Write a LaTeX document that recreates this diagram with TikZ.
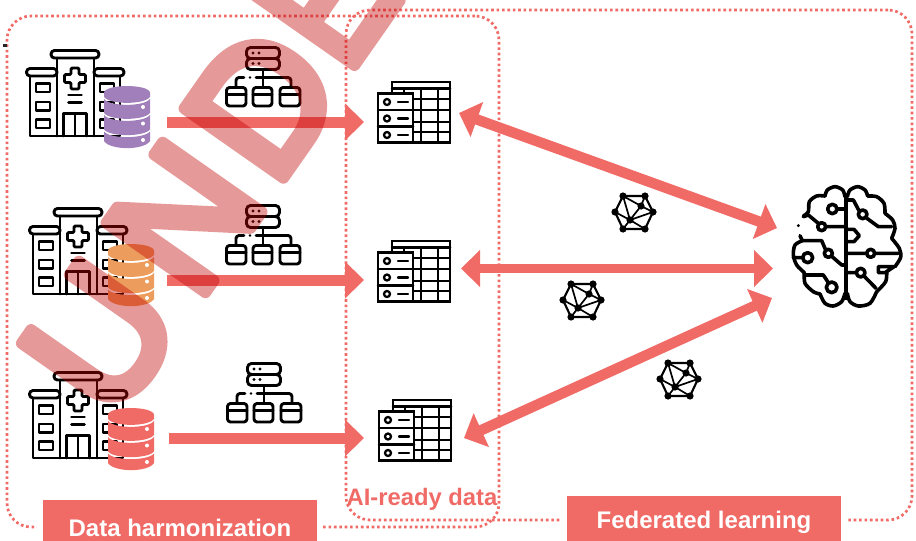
\documentclass[tikz,border=0pt]{standalone}
\usepackage{fontspec}
\setmainfont{Liberation Sans}
\newfontfamily\wmfont[FakeBold=6.5]{Liberation Sans}
\usetikzlibrary{arrows.meta,calc}
\definecolor{coral}{HTML}{F06A66}
\definecolor{wmred}{HTML}{C00000}
\definecolor{dbpurple}{HTML}{A17FBA}
\definecolor{dborange}{HTML}{EC9C5C}
\newcommand{\wmglyph}[1]{\special{pdf:code 1 j}#1}
\tikzset{
  iconbox/.style={inner sep=0,outer sep=0,draw=none,fill=none},
  icon/.style={draw=black,line width=2.9pt,line cap=round,line join=round},
  frame/.style={draw=coral,line width=2.7pt,dash pattern=on 2.6pt off 2.8pt,rounded corners=24pt,inner sep=0,outer sep=0},
  labelbox/.style={fill=coral,draw=white,line width=6pt,text=white,font=\fontsize{24}{26}\selectfont\bfseries,inner sep=0,outer sep=0},
  onearrow/.style={draw=coral,line width=11pt,-{Triangle[length=19pt,width=36pt,fill=coral]}},
  twoarrow/.style={draw=coral,line width=10.5pt,{Triangle[length=19pt,width=36pt,fill=coral]}-{Triangle[length=19pt,width=36pt,fill=coral]}},
  wmletter/.style={text=wmred,inner sep=0,outer sep=0,font=\wmfont\fontsize{176}{176}\selectfont,rotate=55},
  pics/hospital/.style={code={
    \draw[icon,rounded corners=3.5pt] (51,50.5) rectangle (99,58);
    \draw[icon,rounded corners=3.5pt] (26.5,68.5) rectangle (57,76);
    \draw[icon,rounded corners=3.5pt] (94,68.5) rectangle (124,76);
    \draw[icon] (57,58) -- (57,136) (94,58) -- (94,136);
    \draw[icon] (30,76) -- (30,136) -- (120,136) -- (120,76);
    \draw[icon,rounded corners=1.2pt] (71,68) -- (79,68) -- (79,74.5) -- (85.5,74.5) -- (85.5,82.5) -- (79,82.5) -- (79,89) -- (71,89) -- (71,82.5) -- (64.5,82.5) -- (64.5,74.5) -- (71,74.5) -- cycle;
    \draw[icon] (68.5,95) -- (81.5,95) (68.5,102.5) -- (81.5,102.5);
    \draw[icon] (63.5,136) -- (63.5,113.5) -- (86.5,113.5) -- (86.5,136) (75,113.5) -- (75,136);
    \foreach \wy in {83.5,102,119.5}{
      \draw[icon] (36,\wy) rectangle (50,\wy+8.5);
      \draw[icon] (100,\wy) rectangle (114,\wy+8.5);
    }
  }},
  pics/dbstack/.style={code={
    \fill[#1] (104,93) .. controls (104,83.7) and (150,83.7) .. (150,93) -- (150,97) .. controls (144,104.8) and (110,104.8) .. (104,97) -- cycle;
    \fill[#1] (104,99) .. controls (110,106.8) and (144,106.8) .. (150,99) -- (150,113) .. controls (144,120.8) and (110,120.8) .. (104,113) -- cycle;
    \fill[#1] (104,115) .. controls (110,122.8) and (144,122.8) .. (150,115) -- (150,129.5) .. controls (144,137) and (110,137) .. (104,129.5) -- cycle;
    \fill[#1] (104,131.5) .. controls (110,139) and (144,139) .. (150,131.5) -- (150,141) .. controls (144,150.5) and (110,150.5) .. (104,141) -- cycle;
    \fill[white] (143,107) circle[radius=2pt] (143,123.5) circle[radius=2pt] (143,140) circle[radius=2pt];
  }},
  pics/hierarchy/.style={code={
    \draw[icon,rounded corners=4pt] (246.5,47.5) rectangle (279.5,58.5);
    \draw[icon,rounded corners=4pt] (246.5,58.5) rectangle (279.5,69.5);
    \fill (253,53) circle[radius=1.6pt] (259,53) circle[radius=1.6pt] (253,63.5) circle[radius=1.6pt] (259,63.5) circle[radius=1.6pt] (250,77.5) circle[radius=1.3pt];
    \draw[icon] (263,69.5) -- (263,87);
    \draw[icon,rounded corners=3pt] (236,87) -- (236,77.5) -- (244,77.5);
    \draw[icon,rounded corners=3pt] (256,77.5) -- (291,77.5) -- (291,87);
    \foreach \bxa/\bxb in {226.5/246,253/272,280/300}{
      \draw[icon,rounded corners=3pt] (\bxa,87.5) rectangle (\bxb,106);
      \draw[icon] (\bxa,94.5) -- (\bxb,94.5);
    }
  }},
  pics/datatable/.style={code={
    \draw[icon,line width=2.5pt,line join=miter] (392,93) -- (392,82) -- (450,82) -- (450,142.5) -- (413,142.5);
    \draw[icon,line width=2.5pt] (392,88.5) -- (450,88.5);
    \draw[icon,line width=2.5pt] (413,99) -- (450,99) (413,110) -- (450,110) (413,122) -- (450,122) (413,132) -- (450,132);
    \draw[icon,line width=2.5pt] (421,88.5) -- (421,142.5) (438,88.5) -- (438,142.5) (404,88.5) -- (404,93);
    \draw[icon,line width=2.5pt,line join=miter] (378,93.5) rectangle (413,142.5);
    \draw[icon,line width=2.5pt] (378,110) -- (413,110) (378,126.5) -- (413,126.5);
    \draw[icon,line width=2.3pt] (387,102) circle[radius=3pt] (387,118.5) circle[radius=3pt] (387,135) circle[radius=3pt];
    \draw[icon,line width=2.3pt] (398,102) -- (408,102) (398,118.5) -- (408,118.5) (398,135) -- (408,135);
  }},
  pics/mesh/.style={code={
    \draw[black,line width=2.1pt,line join=round] (-11,-16) -- (11,-16) -- (19,0) -- (11,17) -- (-11,17) -- (-19,0) -- cycle;
    \draw[black,line width=1.7pt] (-11,-16) -- (-4,8) (-11,-16) -- (7,-6) (11,-16) -- (7,-6) (19,0) -- (7,-6) (19,0) -- (-4,8) (7,-6) -- (-4,8) (11,17) -- (-4,8) (-11,17) -- (-4,8) (-19,0) -- (-4,8);
    \foreach \mx/\my in {-11/-16,11/-16,19/0,11/17,-11/17,-19/0,7/-6,-4/8}{
      \fill[black] (\mx,\my) circle[radius=3.6pt];
    }
  }},
  pics/brainicon/.style={code={
    \begin{scope}[shift={(770,170)},scale=1/3,icon,line width=3.6pt]
      \draw (228,75) -- (228,385);
      \draw plot[smooth] coordinates {(225,80) (218,60) (195,50) (172,60) (165,78)};
      \draw plot[smooth] coordinates {(165,78) (140,78) (118,95) (115,125) (100,138)};
      \draw plot[smooth] coordinates {(97,212) (75,225) (70,255) (80,285) (103,308)};
      \draw plot[smooth] coordinates {(103,308) (105,340) (130,365) (150,372)};
      \draw plot[smooth] coordinates {(150,372) (165,400) (190,408) (215,395) (225,370)};
      \draw plot[smooth] coordinates {(232,80) (240,60) (263,50) (285,60) (293,78)};
      \draw plot[smooth] coordinates {(293,78) (320,80) (342,100) (345,130)};
      \draw plot[smooth] coordinates {(345,130) (368,150) (375,175) (365,205)};
      \draw plot[smooth] coordinates {(365,205) (388,235) (392,262) (375,290)};
      \draw plot[smooth] coordinates {(350,305) (347,335) (320,365)};
      \draw plot[smooth] coordinates {(320,365) (300,400) (265,408) (240,395) (232,370)};
      \draw (187,117) circle[radius=14pt] (201,117) -- (225,117);
      \draw (100,140) -- (115,135) -- (145,160);
      \draw (155,170) circle[radius=12pt] (167,170) -- (225,170);
      \fill[black] (85,167) circle[radius=5pt];
      \draw (90,197) -- (97,212) -- (155,212) -- (167,240);
      \draw (175,250) circle[radius=12pt] (184,258) -- (215,285) -- (228,285);
      \draw (113,263) circle[radius=15pt] (98,263) -- (70,263);
      \draw (103,315) -- (160,315) -- (175,338);
      \draw (185,352) circle[radius=16pt];
      \draw (232,90) -- (250,90) -- (267,122);
      \draw (278,133) circle[radius=13pt] (288,143) -- (325,170) -- (365,170);
      \draw (232,178) -- (252,178) -- (268,197) -- (252,215) -- (232,215);
      \draw (302,250) circle[radius=12pt] (232,250) -- (290,250) (314,250) -- (385,250);
      \draw (272,308) circle[radius=13pt] (232,308) -- (259,308) (282,318) -- (318,355);
      \draw (372,290) -- (325,290) -- (325,308) -- (345,308) -- (372,290);
    \end{scope}
  }}
}
\begin{document}
\begin{tikzpicture}[x=1pt,y=-1pt]
\path[use as bounding box] (0,0) rectangle (916,541);
\clip (0,0) rectangle (916,541);
% dotted frames
\node[frame,minimum width=492,minimum height=511] (frameA) at (253,271.5) {};
\node[frame,minimum width=566,minimum height=510] (frameB) at (629,265) {};
\fill[black!85] (3,44) rectangle (7,47);
% invisible anchors of the icons
\node[iconbox,minimum width=63,minimum height=72] (db1) at (135.5,122) {};
\node[iconbox,minimum width=63,minimum height=72] (db2) at (135.5,280) {};
\node[iconbox,minimum width=64,minimum height=72] (db3) at (137,438) {};
\node[iconbox,minimum width=95,minimum height=62] (table1) at (411.5,113) {};
\node[iconbox,minimum width=97,minimum height=62] (table2) at (412.5,268.5) {};
\node[iconbox,minimum width=100,minimum height=62] (table3) at (414,438) {};
\node[iconbox,minimum width=128,minimum height=122] (brain) at (837,246) {};
% icons
\pic at (0,0) {hospital};
\pic at (3,158) {hospital};
\pic at (3,322) {hospital};
\pic at (0,0) {dbstack=dbpurple};
\pic at (4,158) {dbstack=dborange};
\pic at (4,322) {dbstack=coral};
\pic at (0,0) {hierarchy};
\pic at (0,158) {hierarchy};
\pic at (1,316) {hierarchy};
\pic at (0,0) {datatable};
\pic at (0,159) {datatable};
\pic at (1,318) {datatable};
\pic at (0,0) {brainicon};
\pic at (634,212) {mesh};
\pic at (582,300) {mesh};
\pic at (679,379) {mesh};
% connectors
\draw[onearrow] (db1.east) -- (db1.east -| table1.west);
\draw[onearrow] (db2.east) -- (db2.east -| table2.west);
\draw[onearrow] (db3.east) -- (db3.east -| table3.west);
\draw[twoarrow] (table1.east) -- ($(brain.west)+(4,-18)$);
\draw[twoarrow,line width=9.5pt] (table2.east) -- (table2.east -| brain.west);
\draw[twoarrow] (table3.east) -- ($(brain.west)+(-1,52)$);
% labels
\node[labelbox,minimum width=280,minimum height=62] (harm) at (180,528) {Data harmonization};
\node[labelbox,minimum width=280,minimum height=58] (fed) at (704,522) {Federated learning};
\node[text=coral,font=\fontsize{23.8}{26}\selectfont\bfseries,inner sep=0] (ready) at (422,499) {AI-ready data};
% watermark
\begin{scope}[transparency group,opacity=.4]
  \node[wmletter] (wmU) at (100.6,337.6) {\wmglyph{U}};
  \node[wmletter] (wmN) at (184,217.5) {\wmglyph{N}};
  \node[wmletter] (wmD) at (262,103) {\wmglyph{D}};
  \node[wmletter,xscale=.85] (wmE) at (326,0.4) {\wmglyph{E}};
\end{scope}
\end{tikzpicture}
\end{document}
